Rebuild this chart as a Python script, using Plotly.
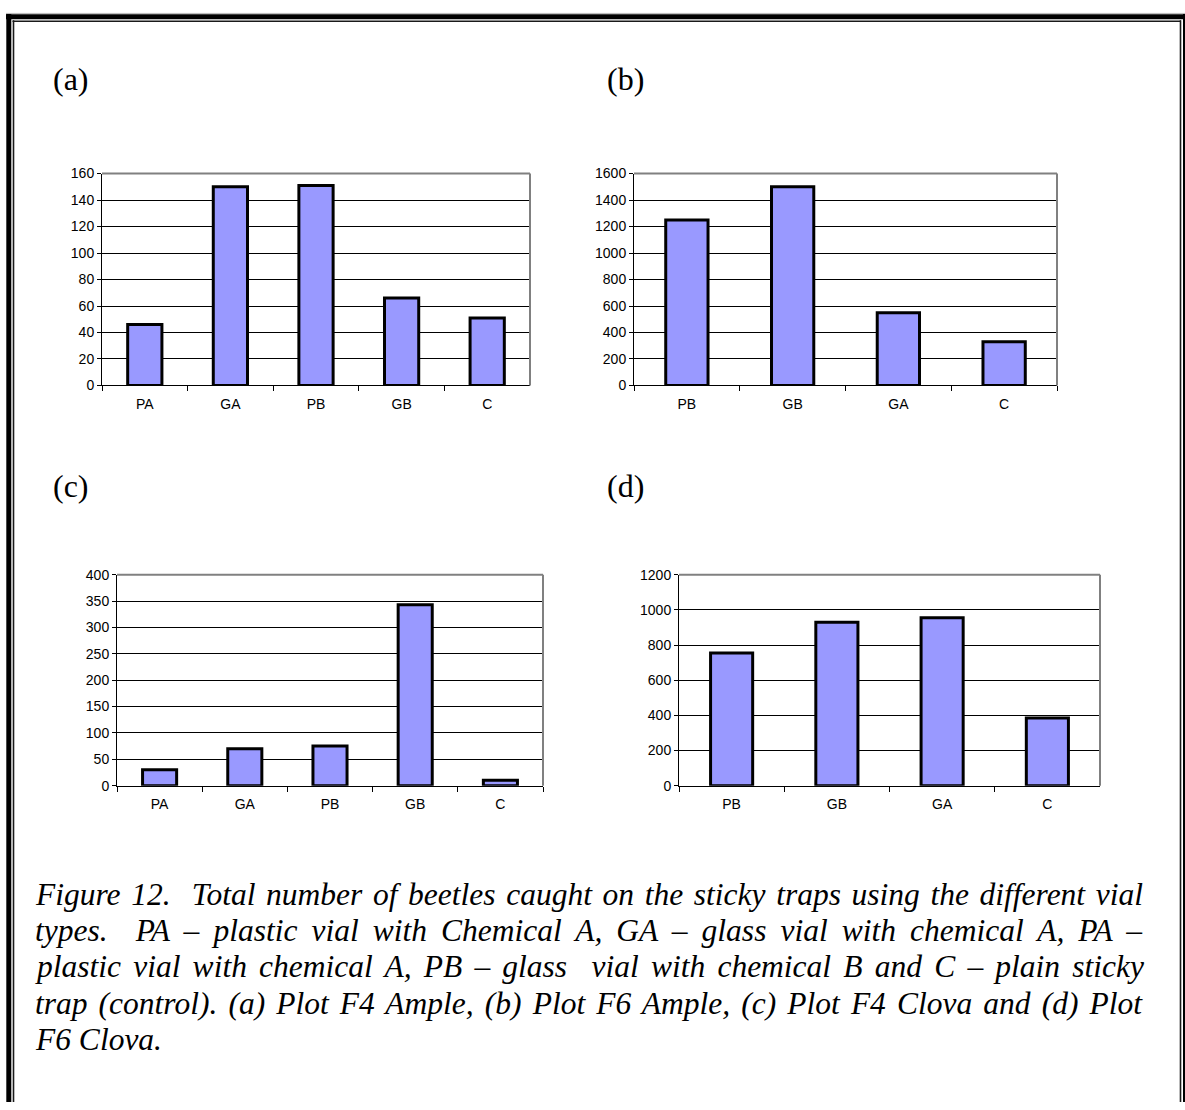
import json
import plotly.graph_objects as go

W, H = 1185, 1110

# ---- data -------------------------------------------------------------
cats_a = ["PA", "GA", "PB", "GB", "C"]
vals_a = [46, 150, 151, 66, 51]

cats_b = ["PB", "GB", "GA", "C"]
vals_b = [1250, 1500, 550, 330]

cats_c = ["PA", "GA", "PB", "GB", "C"]
vals_c = [30, 70, 75, 343, 10]

cats_d = ["PB", "GB", "GA", "C"]
vals_d = [755, 930, 955, 385]

ymax_a, dtick_a = 160, 20
ymax_b, dtick_b = 1600, 200
ymax_c, dtick_c = 400, 50
ymax_d, dtick_d = 1200, 200

panel_labels = ["(a)", "(b)", "(c)", "(d)"]

caption_lines = [
    "Figure 12.\u00a0 Total number of beetles caught on the sticky traps using the different vial",
    "types.\u00a0 PA \u2013 plastic vial with Chemical A, GA \u2013 glass vial with chemical A, PA \u2013",
    "plastic vial with chemical A, PB \u2013 glass\u00a0 vial with chemical B and C \u2013 plain sticky",
    "trap (control). (a) Plot F4 Ample, (b) Plot F6 Ample, (c) Plot F4 Clova and (d) Plot",
    "F6 Clova.",
]

# ---- helpers (pixel -> paper fraction) --------------------------------
def fx(x):
    return x / W


def fy(y):
    return 1 - y / H


BAR_FILL = "#9999FF"
GRAY = "#808080"
TICK_FONT = dict(family="Liberation Sans, Arial, sans-serif", size=14, color="#000000")
SERIF = "Liberation Serif, Times New Roman, serif"

# panel geometry in pixels: left, right, top, bottom of the plot area
panels = [
    (cats_a, vals_a, ymax_a, dtick_a, (102, 530, 168, 383)),
    (cats_b, vals_b, ymax_b, dtick_b, (634, 1057, 168, 383)),
    (cats_c, vals_c, ymax_c, dtick_c, (117, 543, 575, 789)),
    (cats_d, vals_d, ymax_d, dtick_d, (679, 1100, 575, 789)),
]

fig = go.Figure()
shapes = []

for i, (cats, vals, ymax, dtick, (l, r, t, b)) in enumerate(panels, start=1):
    xa = "x" if i == 1 else f"x{i}"
    ya = "y" if i == 1 else f"y{i}"
    fig.add_trace(
        go.Bar(
            x=cats,
            y=vals,
            xaxis=xa,
            yaxis=ya,
            width=0.4,
            marker=dict(color=BAR_FILL, line=dict(color="#000000", width=3)),
            showlegend=False,
            hoverinfo="x+y",
        )
    )
    xkey = "xaxis" if i == 1 else f"xaxis{i}"
    ykey = "yaxis" if i == 1 else f"yaxis{i}"
    fig.update_layout(
        **{
            xkey: dict(
                domain=[fx(l), fx(r)],
                anchor=ya,
                type="category",
                range=[-0.5, len(cats) - 0.5],
                showline=True,
                linecolor="#000000",
                linewidth=1,
                ticks="outside",
                tickson="boundaries",
                ticklen=5,
                tickcolor="#000000",
                tickwidth=1,
                showgrid=False,
                tickfont=TICK_FONT,
                ticklabelstandoff=6,
                fixedrange=True,
            ),
            ykey: dict(
                domain=[fy(b), fy(t)],
                anchor=xa,
                range=[0, ymax],
                dtick=dtick,
                tick0=0,
                showline=True,
                linecolor="#000000",
                linewidth=1,
                ticks="outside",
                ticklen=4,
                tickcolor="#000000",
                tickwidth=1,
                showgrid=True,
                gridcolor="#000000",
                gridwidth=1,
                zeroline=False,
                tickfont=TICK_FONT,
                fixedrange=True,
            ),
        }
    )
    # grey plot-area border on top and right
    shapes.append(dict(type="line", xref=f"{xa} domain", yref=f"{ya} domain",
                       x0=0, x1=1, y0=1, y1=1, line=dict(color=GRAY, width=2), layer="above"))
    shapes.append(dict(type="line", xref=f"{xa} domain", yref=f"{ya} domain",
                       x0=1, x1=1, y0=0, y1=1, line=dict(color=GRAY, width=2), layer="above"))

# ---- page frame -------------------------------------------------------
def hline(y, x0, x1, color, width):
    return dict(type="line", xref="paper", yref="paper", x0=fx(x0), x1=fx(x1),
                y0=fy(y), y1=fy(y), line=dict(color=color, width=width), layer="above")


def vline(x, y0, y1, color, width):
    return dict(type="line", xref="paper", yref="paper", x0=fx(x), x1=fx(x),
                y0=fy(y0), y1=fy(y1), line=dict(color=color, width=width), layer="above")


shapes += [
    hline(5.5, 6, W, "#b8b8b8", 1),
    hline(8.8, 6, W, "#000000", 5),
    vline(8.8, 6, H, "#000000", 5),
    hline(13.5, 12.5, 1181, "#1a1a1a", 1.6),
    vline(13.5, 12.5, H, "#1a1a1a", 1.6),
    vline(1180.5, 12.5, H, "#1a1a1a", 1.6),
    vline(1184.5, 6, H, "#000000", 3),
]

# ---- text -------------------------------------------------------------
annotations = []
label_pos = [(51, 72), (605, 72), (51, 485), (605, 485)]
for txt, (x, y) in zip(panel_labels, label_pos):
    annotations.append(dict(
        text=txt, xref="paper", yref="paper", x=fx(x), y=fy(y),
        xanchor="left", yanchor="middle", showarrow=False,
        font=dict(family=SERIF, size=32, color="#000000"),
    ))

CAP_LEFT, CAP_RIGHT = 36, 1143
cap_y = [899, 936, 973, 1010, 1047]
for line, y in zip(caption_lines, cap_y):
    annotations.append(dict(
        text=line, xref="paper", yref="paper", x=fx(CAP_LEFT - 3), y=fy(y),
        xanchor="left", yanchor="middle", align="left", showarrow=False,
        font=dict(family=SERIF, size=31.5, color="#000000", style="italic"),
    ))

fig.update_layout(
    width=W,
    height=H,
    margin=dict(l=0, r=0, t=0, b=0),
    paper_bgcolor="#ffffff",
    plot_bgcolor="#ffffff",
    shapes=shapes,
    annotations=annotations,
    bargap=0.6,
)

# page without body margin, and the full caption lines justified to the block width
justified = caption_lines[:-1]
post = """
document.body.style.margin = '0';
document.body.style.padding = '0';
var gd = document.getElementById('{plot_id}');
var lines = %s;
var target = %d;
gd.querySelectorAll('text.annotation-text').forEach(function (el) {
  var s = el.textContent;
  if (lines.indexOf(s) < 0) return;
  var n = 0;
  for (var k = 0; k < s.length; k++) { if (s[k] === ' ' || s[k] === '\\u00a0') n++; }
  var w = el.getComputedTextLength();
  if (n > 0) el.style.wordSpacing = ((target - w) / n) + 'px';
});
""" % (json.dumps(justified), CAP_RIGHT - CAP_LEFT)

fig.write_html("out.html", config={"displayModeBar": False}, post_script=post)
